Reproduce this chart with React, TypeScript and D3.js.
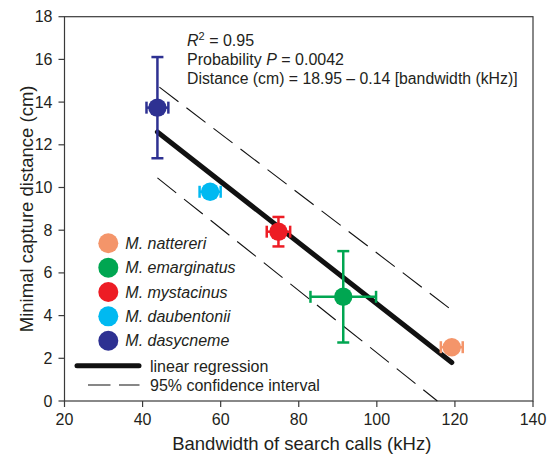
import React from 'react';
import {scaleLinear, line} from 'd3';

// species data
const species = ['M. nattereri', 'M. emarginatus', 'M. mystacinus', 'M. daubentonii', 'M. dasycneme'];
const colors = ['#f4956a', '#00a651', '#ed1c24', '#00b9f1', '#2e3192'];
const bandwidth = [119.2, 91.4, 74.8, 57.3, 43.8];
const bandwidthErr = [2.8, 8.4, 3.0, 2.7, 2.8];
const distance = [2.52, 4.88, 7.93, 9.8, 13.74];
const distanceErr = [0.2, 2.14, 0.69, 0.2, 2.37];

// regression + 95% CI, endpoints as drawn
const regX = [43.8, 119.2];
const regY = [12.6, 1.8];
const ciUpperX = [44.3, 118.9];
const ciUpperY = [14.7, 4.3];
const ciLowerX = [43.8, 115.5];
const ciLowerY = [10.45, 0];

const xTicks = [20, 40, 60, 80, 100, 120, 140];
const yTicks = [0, 2, 4, 6, 8, 10, 12, 14, 16, 18];

const stats = ['= 0.95', 'Probability ', 'Distance (cm) = 18.95 \u2013 0.14 [bandwidth (kHz)]'];

export default function App() {
    const margin = {top: 16.7, right: 16, bottom: 56, left: 64.5};
    const width = 549;
    const height = 457;

    const x = scaleLinear().domain([20, 140]).range([margin.left, width - margin.right]);
    const y = scaleLinear().domain([0, 18]).range([height - margin.bottom, margin.top]);

    const path = (xs: number[], ys: number[]) =>
        line<number>().x((d, i) => x(xs[i])).y(d => y(d))(ys) || '';

    const ink = '#231f20';
    const font = '"Liberation Sans", Arial, Helvetica, sans-serif';
    const x0 = x.range()[0], x1 = x.range()[1];
    const y0 = y.range()[0], y1 = y.range()[1];

    return (
        <svg width={width} height={height} style={{position: 'absolute', left: 0, top: 0}}
             fontFamily={font} fill={ink}>
            <rect width={width} height={height} fill="#fff" />

            {/*frame*/}
            <rect x={x0} y={y1} width={x1 - x0} height={y0 - y1} fill="none" stroke="#3a3a3a" strokeWidth={1.2} />

            {/*x axis*/}
            {xTicks.map(t => (
                <g key={'x' + t}>
                    <line x1={x(t)} x2={x(t)} y1={y0} y2={y0 + 6} stroke="#3a3a3a" strokeWidth={1.2} />
                    <text x={x(t)} y={y0 + 24} textAnchor="middle" fontSize={16}>{t}</text>
                </g>
            ))}
            <text x={(x0 + x1) / 2 + 3} y={450} textAnchor="middle" fontSize={18.5}>Bandwidth of search calls (kHz)</text>

            {/*y axis*/}
            {yTicks.map(t => (
                <g key={'y' + t}>
                    <line x1={x0 - 6} x2={x0} y1={y(t)} y2={y(t)} stroke="#3a3a3a" strokeWidth={1.2} />
                    <text x={x0 - 12} y={y(t) + 5.5} textAnchor="end" fontSize={16}>{t}</text>
                </g>
            ))}
            <text transform={`translate(33,${(y0 + y1) / 2}) rotate(-90)`} textAnchor="middle" fontSize={18.5}>
                Minimal capture distance (cm)
            </text>

            {/*stats text*/}
            <text x={187} y={46} fontSize={16}>
                <tspan fontStyle="italic">R</tspan><tspan fontSize={11} dy={-6}>2</tspan><tspan dy={6}> {stats[0]}</tspan>
            </text>
            <text x={187} y={65} fontSize={16}>
                {stats[1]}<tspan fontStyle="italic">P</tspan> = 0.0042
            </text>
            <text x={187} y={84} fontSize={15.8}>{stats[2]}</text>

            {/*confidence interval*/}
            <path d={path(ciUpperX, ciUpperY)} stroke="#111" strokeWidth={1.1} strokeDasharray="24 10" fill="none" />
            <path d={path(ciLowerX, ciLowerY)} stroke="#111" strokeWidth={1.1} strokeDasharray="24 10" fill="none" />

            {/*regression*/}
            <path d={path(regX, regY)} stroke="#111" strokeWidth={5} strokeLinecap="round" fill="none" />

            {/*points with error bars*/}
            {species.map((s, i) => {
                const cx = x(bandwidth[i]);
                const cy = y(distance[i]);
                const xl = x(bandwidth[i] - bandwidthErr[i]);
                const xr = x(bandwidth[i] + bandwidthErr[i]);
                const yt = y(distance[i] + distanceErr[i]);
                const yb = y(distance[i] - distanceErr[i]);
                const c = colors[i];
                return (
                    <g key={s} stroke={c} strokeWidth={2.5}>
                        <line x1={xl} x2={xr} y1={cy} y2={cy} />
                        <line x1={xl} x2={xl} y1={cy - 6} y2={cy + 6} />
                        <line x1={xr} x2={xr} y1={cy - 6} y2={cy + 6} />
                        <line x1={cx} x2={cx} y1={yt} y2={yb} />
                        <line x1={cx - 6} x2={cx + 6} y1={yt} y2={yt} />
                        <line x1={cx - 6} x2={cx + 6} y1={yb} y2={yb} />
                        <circle cx={cx} cy={cy} r={9.2} fill={c} stroke="none" />
                    </g>
                );
            })}

            {/*legend*/}
            {species.map((s, i) => (
                <g key={'lg' + s} transform={`translate(108.3,${243.3 + i * 24.35})`}>
                    <circle r={10} fill={colors[i]} />
                    <text x={17} y={5.5} fontSize={16} fontStyle="italic">{s}</text>
                </g>
            ))}
            <line x1={77} x2={139} y1={365.7} y2={365.7} stroke="#111" strokeWidth={5} strokeLinecap="round" />
            <text x={150} y={371.5} fontSize={16}>linear regression</text>
            <line x1={88} x2={139.5} y1={385} y2={385} stroke="#111" strokeWidth={1.1} strokeDasharray="22.5 8.5" />
            <text x={150} y={390.5} fontSize={16}>95% confidence interval</text>
        </svg>
    );
}
